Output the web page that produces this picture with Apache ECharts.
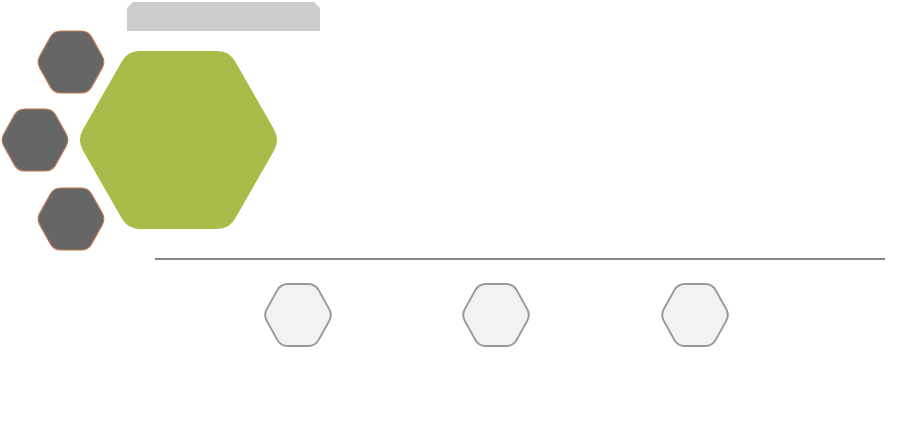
<!DOCTYPE html>
<html>
<head>
<meta charset="utf-8">
<script src="https://cdn.jsdelivr.net/npm/echarts@6/dist/echarts.min.js"></script>
<style>html,body{margin:0;padding:0;background:#fff}#main{width:917px;height:427px}</style>
</head>
<body>
<div id="main"></div>
<script>
// hexagons: [centerX, centerY, halfWidth, halfHeight]
var mainHex = [[178.5, 140, 101.5, 89]];
var sideHex = [[71, 62, 34.5, 31], [35, 140, 34.5, 31], [71, 219, 34.5, 31]];
var stepHex = [[298, 315, 34.5, 31], [496, 315, 34.5, 31], [695, 315, 34.5, 31]];
var tab = [[127, 2, 320, 31]];
var divider = [[155, 259], [885, 259]];

function hexPath(pts, r) {
    var n = pts.length, d = '';
    for (var i = 0; i < n; i++) {
        var p = pts[i], a = pts[(i + n - 1) % n], b = pts[(i + 1) % n];
        var la = Math.hypot(a[0] - p[0], a[1] - p[1]), lb = Math.hypot(b[0] - p[0], b[1] - p[1]);
        var s = [p[0] + (a[0] - p[0]) * r / la, p[1] + (a[1] - p[1]) * r / la];
        var e = [p[0] + (b[0] - p[0]) * r / lb, p[1] + (b[1] - p[1]) * r / lb];
        d += (i === 0 ? 'M' : 'L') + s[0] + ' ' + s[1] + 'Q' + p[0] + ' ' + p[1] + ' ' + e[0] + ' ' + e[1];
    }
    return d + 'Z';
}

function hexRender(style, radius) {
    return function (params, api) {
        var c = api.coord([api.value(0), api.value(1)]);
        var q = api.coord([api.value(0) + api.value(2), api.value(1) + api.value(3)]);
        var hw = q[0] - c[0], hh = q[1] - c[1];
        var pts = [[c[0] - hw, c[1]], [c[0] - hw / 2, c[1] - hh], [c[0] + hw / 2, c[1] - hh],
                   [c[0] + hw, c[1]], [c[0] + hw / 2, c[1] + hh], [c[0] - hw / 2, c[1] + hh]];
        return { type: 'path', shape: { pathData: hexPath(pts, radius) }, style: style };
    };
}

var chart = echarts.init(document.getElementById('main'));
chart.setOption({
    animation: false,
    grid: { left: 0, right: 0, top: 0, bottom: 0 },
    xAxis: { type: 'value', min: 0, max: 917, show: false },
    yAxis: { type: 'value', min: 0, max: 427, inverse: true, show: false },
    series: [
        {
            type: 'custom', data: tab,
            renderItem: function (params, api) {
                var a = api.coord([api.value(0), api.value(1)]);
                var b = api.coord([api.value(2), api.value(3)]);
                var c = 6;
                var d = 'M' + a[0] + ' ' + b[1] + 'L' + a[0] + ' ' + (a[1] + c) + 'L' + (a[0] + c) + ' ' + a[1] +
                    'L' + (b[0] - c) + ' ' + a[1] + 'L' + b[0] + ' ' + (a[1] + c) + 'L' + b[0] + ' ' + b[1] + 'Z';
                return { type: 'path', shape: { pathData: d }, style: { fill: '#cccccc' } };
            }
        },
        { type: 'custom', data: mainHex, renderItem: hexRender({ fill: '#a9bb49' }, 12) },
        { type: 'custom', data: sideHex, renderItem: hexRender({ fill: '#666666', stroke: '#c07a50', lineWidth: 1.2 }, 7) },
        { type: 'custom', data: stepHex, renderItem: hexRender({ fill: '#f2f2f2', stroke: '#999999', lineWidth: 2 }, 7) },
        {
            type: 'line', data: divider, symbol: 'none', silent: true,
            lineStyle: { color: '#888888', width: 2 }
        }
    ]
});
</script>
</body>
</html>
